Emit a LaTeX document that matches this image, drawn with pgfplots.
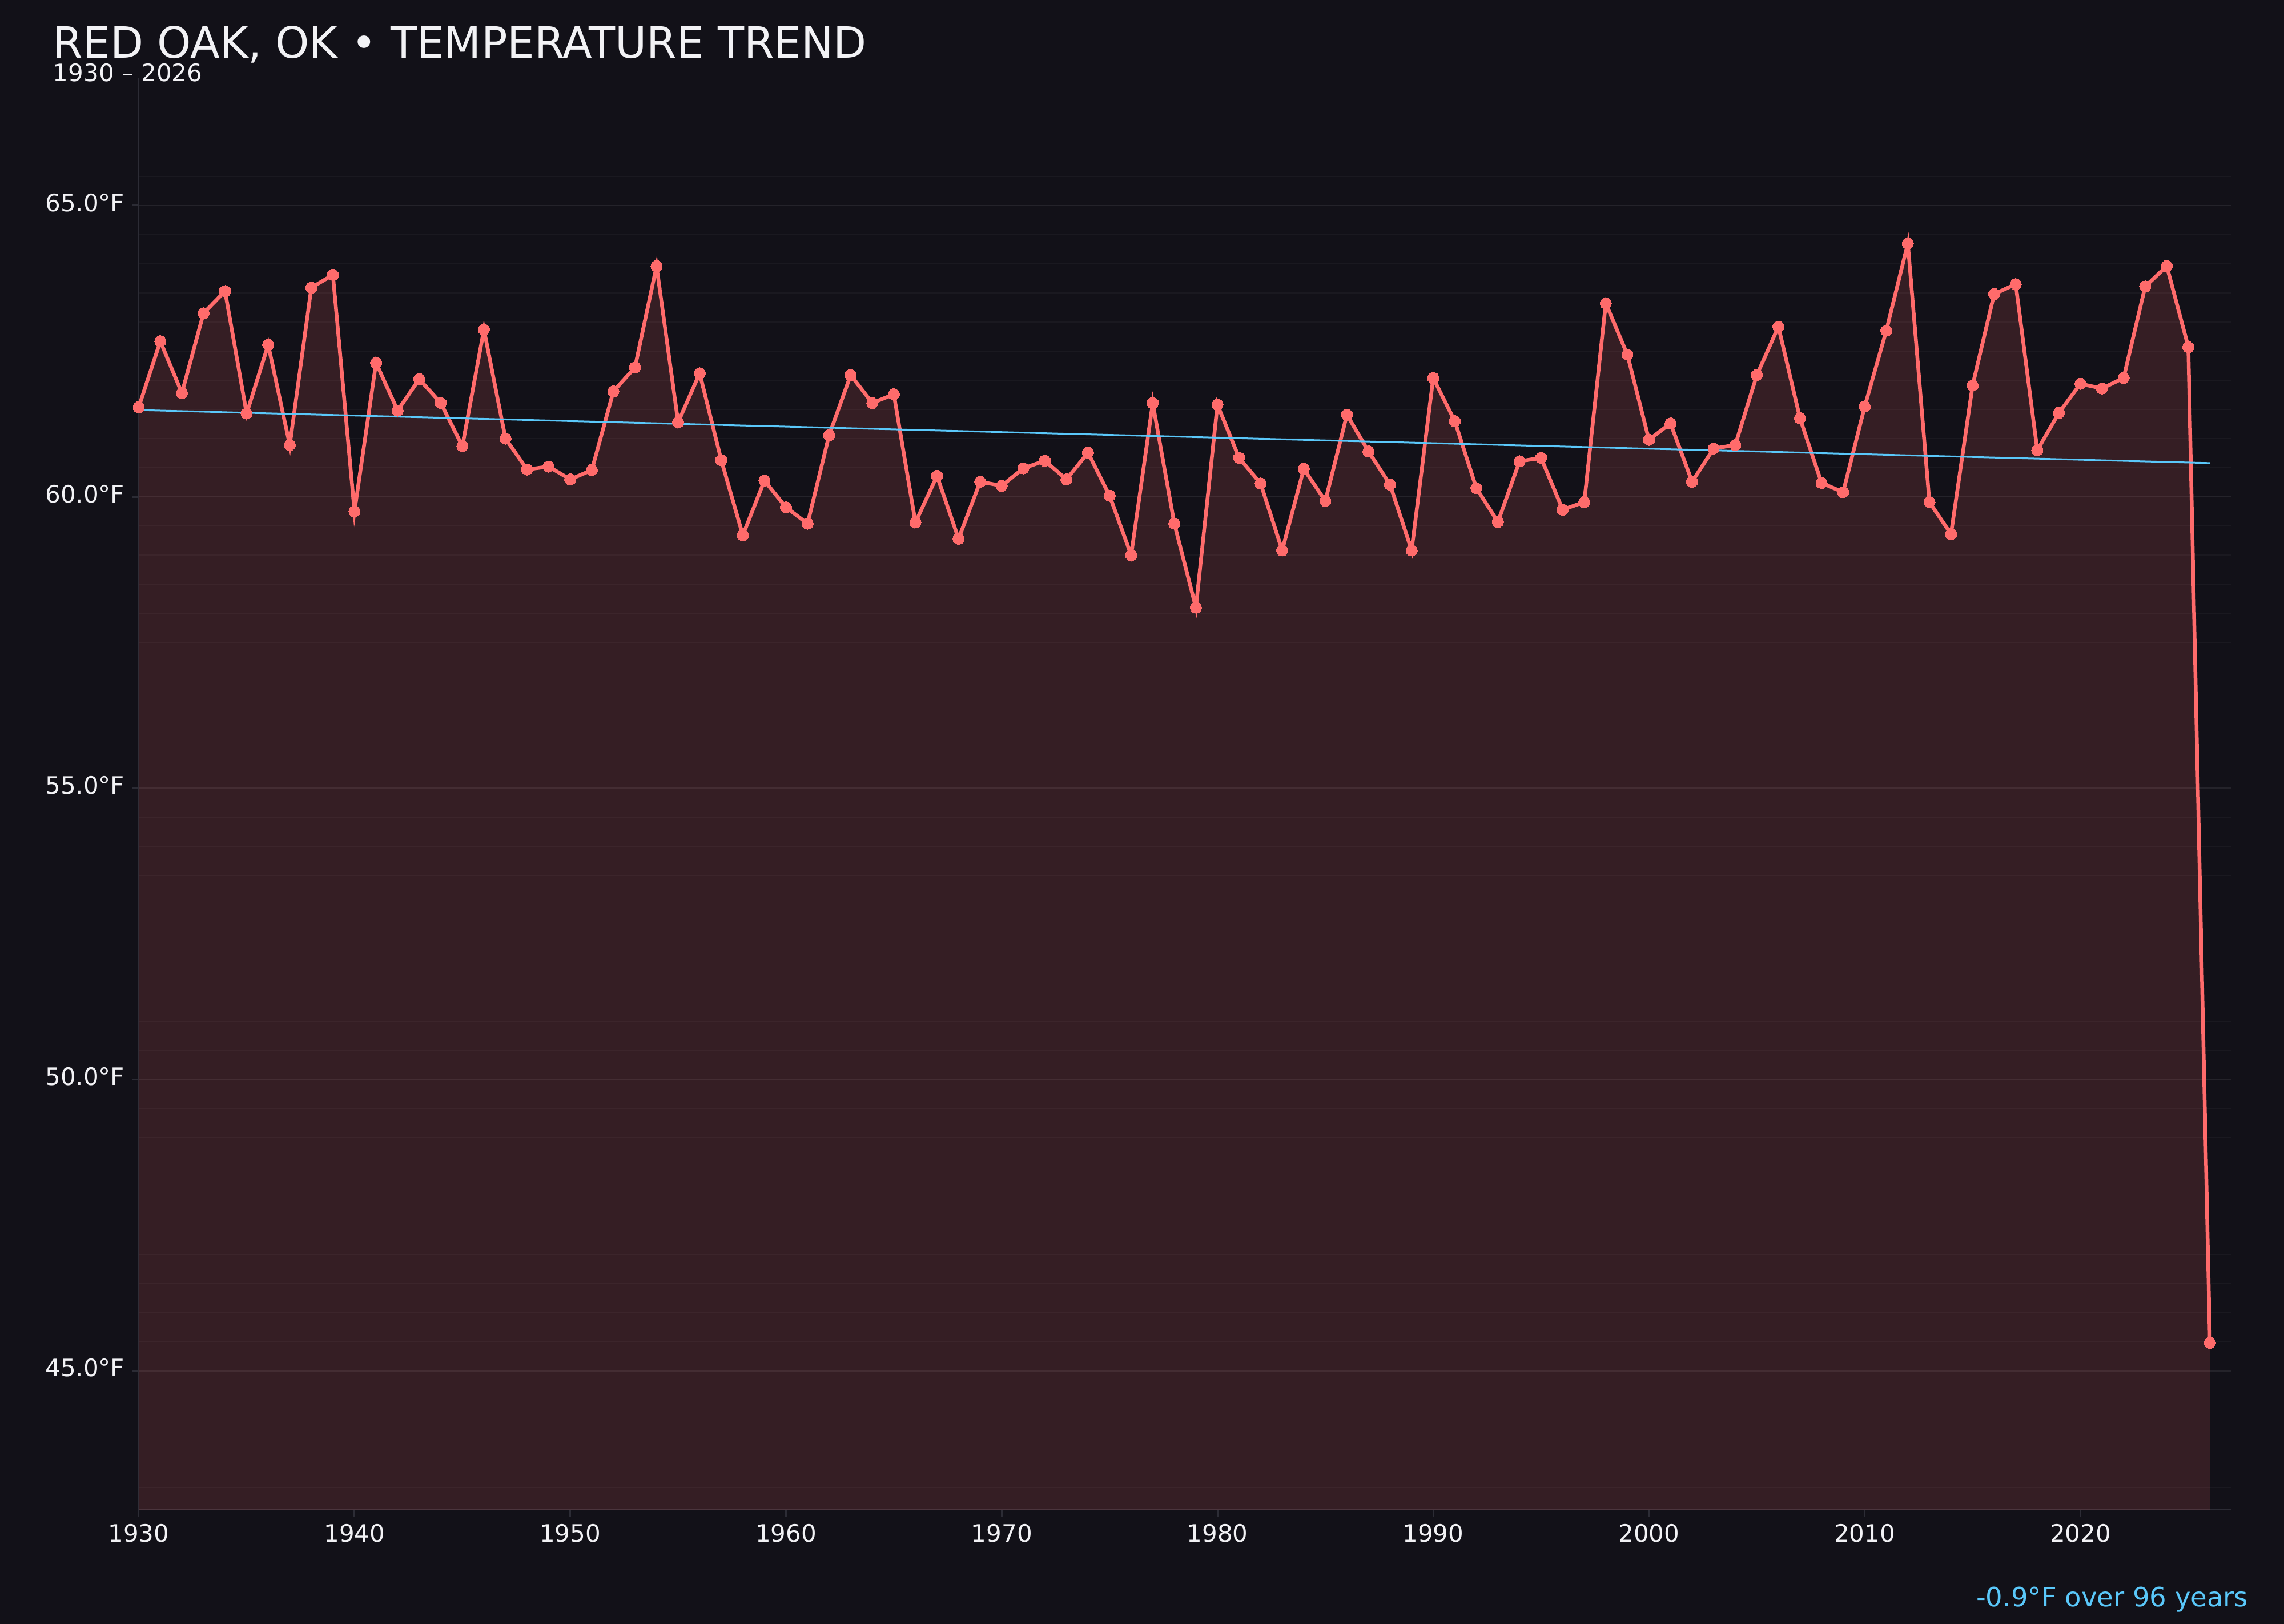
\documentclass[border=0pt]{standalone}
\usepackage{fontspec}
\setmainfont{DejaVu Sans}
\usepackage{pgfplots}
\pgfplotsset{compat=1.18}
\usepackage{pgfplotstable}

\definecolor{bg}{HTML}{121118}
\definecolor{heat}{HTML}{FF6B6B}
\definecolor{trend}{HTML}{5AC8FA}
\definecolor{spine}{HTML}{2C2C35}
\definecolor{gridmaj}{HTML}{24232A}
\definecolor{gridmin}{HTML}{1A1920}
\definecolor{ink}{HTML}{F2F2F5}

% annual mean temperature, deg F
\pgfplotstableread{
year temp
1930 61.54
1931 62.67
1932 61.78
1933 63.15
1934 63.53
1935 61.43
1936 62.61
1937 60.89
1938 63.59
1939 63.81
1940 59.75
1941 62.30
1942 61.48
1943 62.02
1944 61.61
1945 60.87
1946 62.87
1947 61.00
1948 60.47
1949 60.52
1950 60.30
1951 60.46
1952 61.81
1953 62.22
1954 63.96
1955 61.28
1956 62.12
1957 60.63
1958 59.34
1959 60.28
1960 59.82
1961 59.54
1962 61.06
1963 62.09
1964 61.61
1965 61.76
1966 59.56
1967 60.36
1968 59.28
1969 60.26
1970 60.19
1971 60.49
1972 60.62
1973 60.30
1974 60.76
1975 60.02
1976 59.00
1977 61.61
1978 59.54
1979 58.10
1980 61.58
1981 60.67
1982 60.23
1983 59.08
1984 60.48
1985 59.93
1986 61.41
1987 60.78
1988 60.21
1989 59.08
1990 62.04
1991 61.30
1992 60.15
1993 59.57
1994 60.61
1995 60.67
1996 59.78
1997 59.91
1998 63.32
1999 62.44
2000 60.98
2001 61.26
2002 60.26
2003 60.83
2004 60.89
2005 62.09
2006 62.92
2007 61.35
2008 60.24
2009 60.08
2010 61.55
2011 62.85
2012 64.35
2013 59.91
2014 59.36
2015 61.91
2016 63.48
2017 63.65
2018 60.80
2019 61.44
2020 61.94
2021 61.86
2022 62.04
2023 63.61
2024 63.96
2025 62.57
2026 45.48
}\temps

\begin{document}
\begin{tikzpicture}
\fill[bg] (-48.6pt,-40pt) rectangle (751.4pt,528.8pt);
\begin{axis}[
    at={(0,0)}, anchor=south west,
    scale only axis,
    width=733pt, height=501.4pt,
    xmin=1930, xmax=2027,
    ymin=42.615, ymax=67.185,
    axis x line*=bottom, axis y line*=left,
    axis line style={draw=spine, line width=0.6pt},
    xtick={1930,1940,...,2020},
    ytick={45,50,55,60,65},
    minor ytick={43,43.5,...,67},
    ymajorgrids, yminorgrids,
    major grid style={draw=gridmaj, line width=0.4pt},
    minor grid style={draw=gridmin, line width=0.25pt},
    tick align=outside,
    major tick length=2.4pt, minor tick length=0pt,
    tick style={draw=spine, line width=0.6pt},
    /pgf/number format/assume math mode=true,
    xticklabel={\pgfmathprintnumber[1000 sep={}]{\tick}},
    yticklabel={\pgfmathprintnumber[fixed,fixed zerofill,precision=1]{\tick}°F},
    xticklabel style={font=\fontsize{8.4}{10}\selectfont, text=ink, anchor=north, inner sep=0pt, yshift=-2.4pt},
    yticklabel style={font=\fontsize{8.4}{10}\selectfont, text=ink, anchor=east, inner sep=0pt, xshift=-2.4pt, yshift=1pt},
]
\addplot[draw=none, fill=heat, fill opacity=0.15] table[x=year, y=temp] {\temps} \closedcycle;
\addplot[heat, line width=1.3pt, mark=*, mark size=2pt,
    mark options={fill=heat, draw=heat, line width=0pt}] table[x=year, y=temp] {\temps};
\addplot[trend, line width=0.6pt] coordinates {(1930,61.49) (2026,60.58)};
\end{axis}
\node[anchor=base west, inner sep=0pt, text=ink, font=\fontsize{15.1}{18}\selectfont]
    at (-30.2pt,508.4pt) {RED OAK, OK • TEMPERATURE TREND};
\node[anchor=base west, inner sep=0pt, text=ink, font=\fontsize{8.4}{10}\selectfont]
    at (-30.2pt,500.2pt) {1930 – 2026};
\node[anchor=base east, inner sep=0pt, text=trend, font=\fontsize{9.3}{11}\selectfont]
    at (739pt,-34pt) {-0.9°F over 96 years};
\pgfresetboundingbox
\path[use as bounding box] (-48.6pt,-40pt) rectangle (751.4pt,528.8pt);
\end{tikzpicture}
\end{document}
